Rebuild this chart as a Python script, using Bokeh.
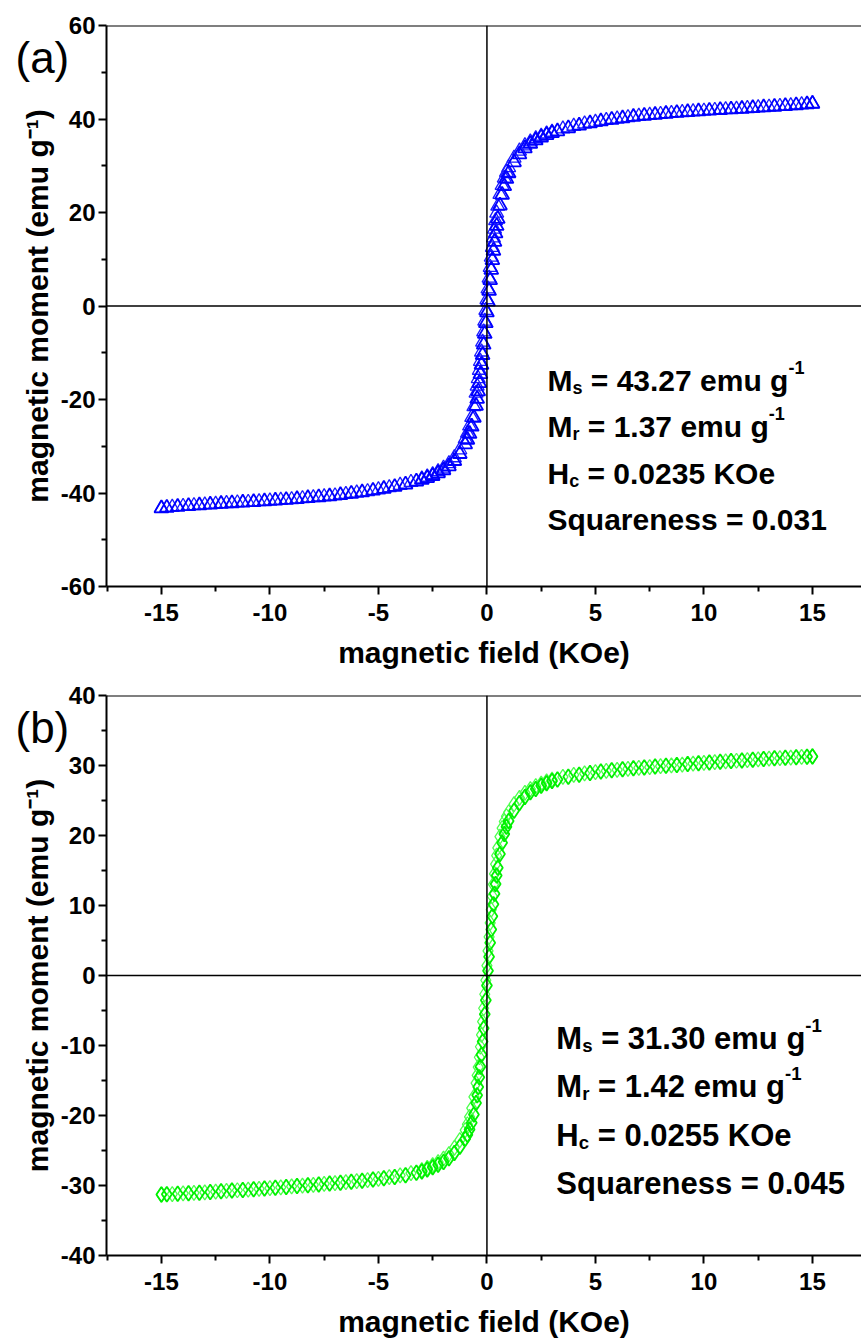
from bokeh.plotting import figure
from bokeh.layouts import column
from bokeh.models import Span, Label, FixedTicker, Title
from bokeh.embed import file_html
from bokeh.resources import INLINE

FONT = "Liberation Sans"

# Applied field (kOe), sweep from +15 down to -15
H_DOWN = [15.0, 14.5, 14.0, 13.5, 13.0, 12.5, 12.0, 11.5, 11.0, 10.5, 10.0, 9.5, 9.0, 8.5, 8.0,
          7.5, 7.0, 6.5, 6.0, 5.5, 5.0, 4.5, 4.0, 3.5, 3.0, 2.75, 2.5, 2.25, 2.0, 1.75, 1.5, 1.25,
          1.0, 0.9, 0.8, 0.7, 0.6, 0.5, 0.45, 0.4, 0.35, 0.3, 0.25, 0.2, 0.15, 0.1, 0.05, 0.0,
          -0.05, -0.1, -0.15, -0.2, -0.25, -0.3, -0.35, -0.4, -0.45, -0.5, -0.6, -0.7, -0.8,
          -0.9, -1.0, -1.25, -1.5, -1.75, -2.0, -2.25, -2.5, -2.75, -3.0, -3.5, -4.0, -4.5, -5.0,
          -5.5, -6.0, -6.5, -7.0, -7.5, -8.0, -8.5, -9.0, -9.5, -10.0, -10.5, -11.0, -11.5,
          -12.0, -12.5, -13.0, -13.5, -14.0, -14.5, -15.0]

# Applied field (kOe), sweep from -15 back up to +15
H_UP = [-15.0, -14.75, -14.25, -13.75, -13.25, -12.75, -12.25, -11.75, -11.25, -10.75, -10.25,
        -9.75, -9.25, -8.75, -8.25, -7.75, -7.25, -6.75, -6.25, -5.75, -5.25, -4.75, -4.25,
        -3.75, -3.25, -3.0, -2.75, -2.5, -2.25, -2.0, -1.75, -1.5, -1.25, -1.0, -0.9, -0.8,
        -0.7, -0.6, -0.5, -0.45, -0.4, -0.35, -0.3, -0.25, -0.2, -0.15, -0.1, -0.05, 0.0,
        0.05, 0.1, 0.15, 0.2, 0.25, 0.3, 0.35, 0.4, 0.45, 0.5, 0.6, 0.7, 0.8, 0.9, 1.0, 1.25,
        1.5, 1.75, 2.0, 2.25, 2.5, 2.75, 3.0, 3.25, 3.75, 4.25, 4.75, 5.25, 5.75, 6.25, 6.75,
        7.25, 7.75, 8.25, 8.75, 9.25, 9.75, 10.25, 10.75, 11.25, 11.75, 12.25, 12.75, 13.25,
        13.75, 14.25, 14.75, 15.0]

# Sample (a): magnetic moment (emu/g)
A_DOWN = [43.27, 43.05, 42.85, 42.70, 42.55, 42.40, 42.25, 42.10, 42.00, 41.85, 41.70, 41.55,
          41.40, 41.20, 41.00, 40.80, 40.60, 40.30, 40.00, 39.70, 39.30, 38.94, 38.46, 37.88,
          37.20, 36.82, 36.35, 35.78, 35.12, 34.28, 33.15, 31.65, 29.60, 28.60, 27.35, 25.80,
          23.90, 21.37, 19.87, 18.27, 16.47, 14.57, 12.57, 10.47, 8.27, 5.97, 3.67, 1.37,
          -0.93, -3.23, -5.53, -7.73, -9.83, -11.83, -13.73, -15.53, -17.13, -18.63, -21.50,
          -23.80, -25.65, -27.20, -28.40, -30.75, -32.45, -33.72, -34.68, -35.42, -36.05,
          -36.58, -37.00, -37.72, -38.34, -38.86, -39.30, -39.70, -40.00, -40.30, -40.60,
          -40.80, -41.00, -41.20, -41.40, -41.55, -41.70, -41.85, -42.00, -42.10, -42.25,
          -42.40, -42.55, -42.70, -42.85, -43.05, -43.27]
A_UP = [-43.27, -43.15, -42.95, -42.78, -42.63, -42.48, -42.33, -42.18, -42.05, -41.93, -41.78,
        -41.63, -41.48, -41.30, -41.10, -40.90, -40.70, -40.45, -40.15, -39.85, -39.50, -39.12,
        -38.70, -38.17, -37.54, -37.20, -36.82, -36.35, -35.78, -35.12, -34.28, -33.15, -31.65,
        -29.60, -28.60, -27.35, -25.80, -23.90, -21.37, -19.87, -18.27, -16.47, -14.57, -12.57,
        -10.47, -8.27, -5.97, -3.67, -1.37, 0.93, 3.23, 5.53, 7.73, 9.83, 11.83, 13.73, 15.53,
        17.13, 18.63, 21.50, 23.80, 25.65, 27.20, 28.40, 30.75, 32.45, 33.72, 34.68, 35.42,
        36.05, 36.58, 37.00, 37.36, 38.03, 38.60, 39.08, 39.50, 39.85, 40.15, 40.45, 40.70,
        40.90, 41.10, 41.30, 41.48, 41.63, 41.78, 41.93, 42.05, 42.18, 42.33, 42.48, 42.63,
        42.78, 42.95, 43.15, 43.27]

# Sample (b): magnetic moment (emu/g)
B_DOWN = [31.30, 31.22, 31.14, 31.06, 30.98, 30.88, 30.78, 30.68, 30.58, 30.48, 30.38, 30.26,
          30.14, 30.02, 29.90, 29.78, 29.66, 29.53, 29.39, 29.23, 29.05, 28.88, 28.66, 28.38,
          28.00, 27.72, 27.40, 27.04, 26.63, 26.09, 25.36, 24.47, 23.32, 22.75, 22.00, 21.05,
          19.85, 18.22, 17.12, 15.92, 14.52, 13.02, 11.32, 9.42, 7.52, 5.52, 3.52, 1.42,
          -0.68, -2.68, -4.68, -6.58, -8.48, -10.18, -11.68, -13.08, -14.28, -15.38, -17.35,
          -18.95, -20.20, -21.25, -22.08, -23.53, -24.64, -25.51, -26.17, -26.66, -27.10,
          -27.48, -27.80, -28.22, -28.54, -28.80, -29.05, -29.23, -29.39, -29.53, -29.66,
          -29.78, -29.90, -30.02, -30.14, -30.26, -30.38, -30.48, -30.58, -30.68, -30.78,
          -30.88, -30.98, -31.06, -31.14, -31.22, -31.30]
B_UP = [-31.30, -31.26, -31.18, -31.10, -31.02, -30.93, -30.83, -30.73, -30.63, -30.53, -30.43,
        -30.32, -30.20, -30.08, -29.96, -29.84, -29.72, -29.60, -29.46, -29.31, -29.14, -28.97,
        -28.77, -28.52, -28.19, -28.00, -27.72, -27.40, -27.04, -26.63, -26.09, -25.36, -24.47,
        -23.32, -22.75, -22.00, -21.05, -19.85, -18.22, -17.12, -15.92, -14.52, -13.02, -11.32,
        -9.42, -7.52, -5.52, -3.52, -1.42, 0.68, 2.68, 4.68, 6.58, 8.48, 10.18, 11.68, 13.08,
        14.28, 15.38, 17.35, 18.95, 20.20, 21.25, 22.08, 23.53, 24.64, 25.51, 26.17, 26.66,
        27.10, 27.48, 27.80, 28.01, 28.38, 28.67, 28.93, 29.14, 29.31, 29.46, 29.60, 29.72,
        29.84, 29.96, 30.08, 30.20, 30.32, 30.43, 30.53, 30.63, 30.73, 30.83, 30.93, 31.02,
        31.10, 31.18, 31.26, 31.30]

X_TICKS = [-15, -10, -5, 0, 5, 10, 15]
X_MINOR = [-17.5, -12.5, -7.5, -2.5, 2.5, 7.5, 12.5]
A_Y_TICKS = [-60, -40, -20, 0, 20, 40, 60]
A_Y_MINOR = [-50, -30, -10, 10, 30, 50]
B_Y_TICKS = [-40, -30, -20, -10, 0, 10, 20, 30, 40]
B_Y_MINOR = [-35, -25, -15, -5, 5, 15, 25, 35]

A_NOTES = [[("M", ""), ("s", "sub"), (" = 43.27 emu g", ""), ("-1", "sup")],
           [("M", ""), ("r", "sub"), (" = 1.37 emu g", ""), ("-1", "sup")],
           [("H", ""), ("c", "sub"), (" = 0.0235 KOe", "")],
           [("Squareness = 0.031", "")]]
B_NOTES = [[("M", ""), ("s", "sub"), (" = 31.30 emu g", ""), ("-1", "sup")],
           [("M", ""), ("r", "sub"), (" = 1.42 emu g", ""), ("-1", "sup")],
           [("H", ""), ("c", "sub"), (" = 0.0255 KOe", "")],
           [("Squareness = 0.045", "")]]

X_RANGE = (-17.53, 17.26)
FRAME_W = 755

# advance widths (em) of a bold Arial-metric face
WIDTHS = {" ": 0.278, "=": 0.584, ".": 0.278, "-": 0.333, "M": 0.833, "H": 0.722, "S": 0.667,
          "K": 0.722, "O": 0.778, "e": 0.556, "m": 0.889, "u": 0.611, "g": 0.611, "q": 0.611,
          "a": 0.556, "r": 0.389, "n": 0.611, "s": 0.556, "c": 0.556}


def text_width(s, size):
    return sum(WIDTHS.get(ch, 0.556) for ch in s) * size


def rich_line(p, x0, y0, parts, size, kx, ky):
    cursor = 0.0
    for txt, kind in parts:
        fs = size * (0.6 if kind else 1.0)
        lead = len(txt) - len(txt.lstrip(" "))
        trail = len(txt) - len(txt.rstrip(" "))
        cursor += text_width(" " * lead, fs)
        body = txt.strip(" ")
        dy = {"": 0.0, "sub": -0.24 * size, "sup": 0.42 * size}[kind]
        p.add_layout(Label(x=x0 + cursor / kx, y=y0 + dy / ky, text=body,
                           text_font=FONT, text_font_size=f"{fs:.1f}px",
                           text_font_style="bold", text_color="black",
                           text_align="left", text_baseline="alphabetic"))
        cursor += text_width(body, fs) + text_width(" " * trail, fs)


def panel(h_down, m_down, h_up, m_up, y_range, y_ticks, y_minor, colors, marker, size,
          tag, notes, note_x, note_ys, note_size, height, top, bottom):
    p = figure(width=861, height=height, x_range=X_RANGE, y_range=y_range,
               output_backend="svg", toolbar_location=None,
               min_border_left=106, min_border_right=0,
               min_border_top=top, min_border_bottom=bottom)
    p.grid.visible = False
    p.outline_line_color = None
    p.background_fill_color = "white"
    p.border_fill_color = "white"

    frame_h = height - top - bottom
    kx = FRAME_W / (X_RANGE[1] - X_RANGE[0])
    ky = frame_h / (y_range[1] - y_range[0])

    for ax, ticks, minor in ((p.xaxis[0], X_TICKS, X_MINOR), (p.yaxis[0], y_ticks, y_minor)):
        ax.ticker = FixedTicker(ticks=ticks, minor_ticks=minor)
        ax.major_label_overrides = {t: str(t) for t in ticks}
        ax.axis_line_width = 2
        ax.major_tick_line_width = 2
        ax.minor_tick_line_width = 2
        ax.major_tick_in = 0
        ax.major_tick_out = 8
        ax.minor_tick_in = 0
        ax.minor_tick_out = 5
        ax.major_label_text_font = FONT
        ax.major_label_text_font_style = "bold"
        ax.major_label_text_font_size = "24px"
        ax.major_label_text_color = "black"
        ax.axis_label_text_font = FONT
        ax.axis_label_text_font_style = "bold"
        ax.axis_label_text_font_size = "30px"
        ax.axis_label_text_color = "black"
    p.xaxis.axis_label = "magnetic field (KOe)"
    p.xaxis.major_label_standoff = 9
    p.xaxis.axis_label_standoff = 12
    p.yaxis.axis_label = "magnetic moment (emu g⁻¹)"
    p.yaxis.major_label_standoff = 3
    p.yaxis.axis_label_standoff = 4

    # frame top edge and the zero cross-hair
    p.add_layout(Span(location=y_range[1], dimension="width", line_color="black", line_width=2))
    p.add_layout(Span(location=0, dimension="height", line_color="black", line_width=1.5))
    p.add_layout(Span(location=0, dimension="width", line_color="black", line_width=1.5))

    p.scatter(h_down, m_down, marker=marker, size=size, fill_color=None,
              line_color=colors[0], line_width=1.3)
    p.scatter(h_up, m_up, marker=marker, size=size, fill_color=None,
              line_color=colors[1], line_width=1.8)

    # panel tag, hung from the top margin down into the left margin
    p.add_layout(Title(text=tag, align="left", vertical_align="bottom",
                       offset=-91, standoff=-112,
                       text_font=FONT, text_font_size="44px", text_font_style="normal",
                       text_color="black"), "above")

    for parts, y0 in zip(notes, note_ys):
        rich_line(p, note_x, y0, parts, note_size, kx, ky)
    return p


p1 = panel(H_DOWN, A_DOWN, H_UP, A_UP, (-60, 60), A_Y_TICKS, A_Y_MINOR,
           ("#1a1aff", "#0000ff"), "triangle", 14, "(a)",
           A_NOTES, 2.79, [-15.94, -25.78, -35.83, -45.67], 30, 672, 25, 86)
p2 = panel(H_DOWN, B_DOWN, H_UP, B_UP, (-40, 40), B_Y_TICKS, B_Y_MINOR,
           ("#4dff4d", "#00f000"), "diamond", 15, "(b)",
           B_NOTES, 3.20, [-9.0, -15.86, -22.86, -29.71], 31, 672, 23, 89)

layout = column(p1, p2, spacing=0)
open("out.html", "w").write(file_html(layout, INLINE))
